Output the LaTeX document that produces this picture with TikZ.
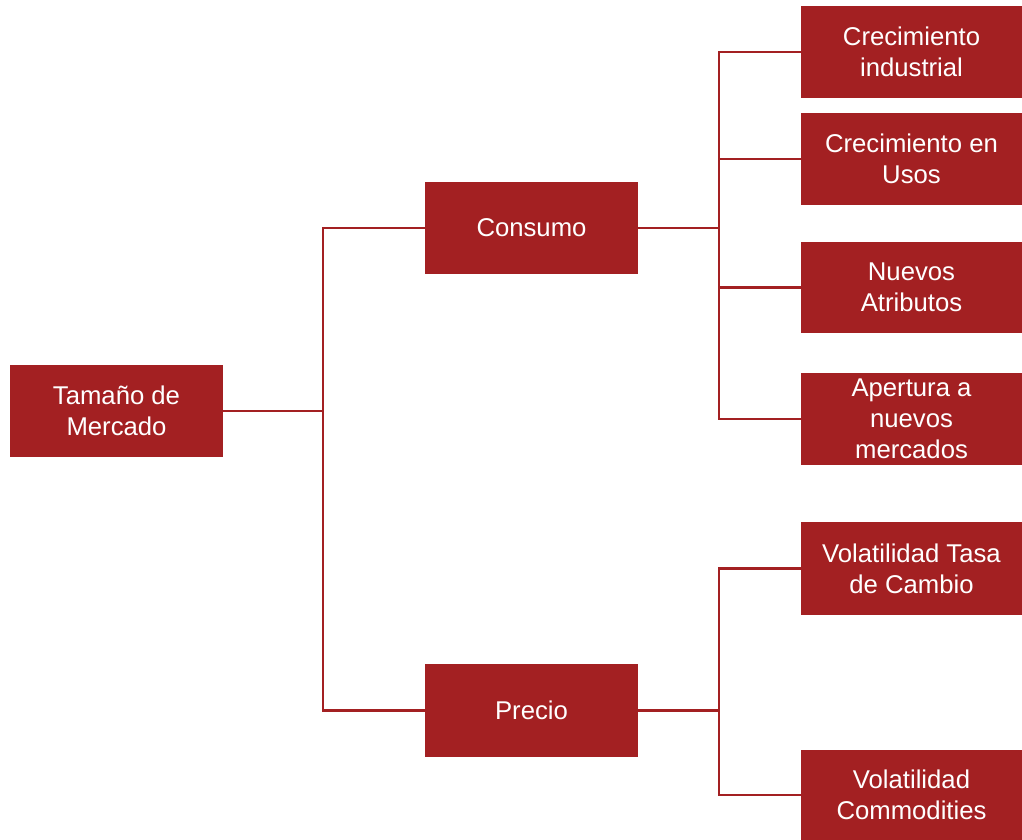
\documentclass[tikz,border=0pt]{standalone}
\usepackage{fontspec}
\setmainfont{Liberation Sans}
\definecolor{boxred}{RGB}{163,32,34}
\begin{document}
\begin{tikzpicture}[x=1pt,y=-1pt,
  box/.style={fill=boxred, text=white, align=center, inner sep=0pt,
    font=\fontsize{25.7}{31}\selectfont},
  leftbox/.style={box, minimum width=213pt, minimum height=92pt},
  rightbox/.style={box, minimum width=221pt, minimum height=92pt},
  link/.style={draw=boxred, line width=2.6pt}]
\useasboundingbox (0,0) rectangle (1022,840);
\node[leftbox] (tam) at (116.5,411) {Tamaño de\\Mercado};
\node[leftbox] (con) at (531.5,228) {Consumo};
\node[leftbox, minimum height=93pt] (pre) at (531.5,710.5) {Precio};
\node[rightbox] (ci) at (911.5,52) {Crecimiento\\industrial};
\node[rightbox] (cu) at (911.5,159) {Crecimiento en\\Usos};
\node[rightbox, minimum height=91pt] (na) at (911.5,287.5) {Nuevos\\Atributos};
\node[rightbox] (ap) at (911.5,419) {Apertura a\\nuevos\\mercados};
\node[rightbox, minimum height=93pt] (vt) at (911.5,568.5) {Volatilidad Tasa\\de Cambio};
\node[rightbox, minimum height=90pt] (vc) at (911.5,795) {Volatilidad\\Commodities};
\coordinate (j1) at (323,411);
\coordinate (j2) at (719,228);
\coordinate (j3) at (719,710.5);
\draw[link] (tam.east) -- (j1);
\draw[link] (j1) |- (con.west);
\draw[link] (j1) |- (pre.west);
\draw[link] (con.east) -- (j2);
\draw[link] (j2) |- (ci.west);
\draw[link] (j2) |- (cu.west);
\draw[link] (j2) |- (na.west);
\draw[link] (j2) |- (ap.west);
\draw[link] (pre.east) -- (j3);
\draw[link] (j3) |- (vt.west);
\draw[link] (j3) |- (vc.west);
\end{tikzpicture}
\end{document}
